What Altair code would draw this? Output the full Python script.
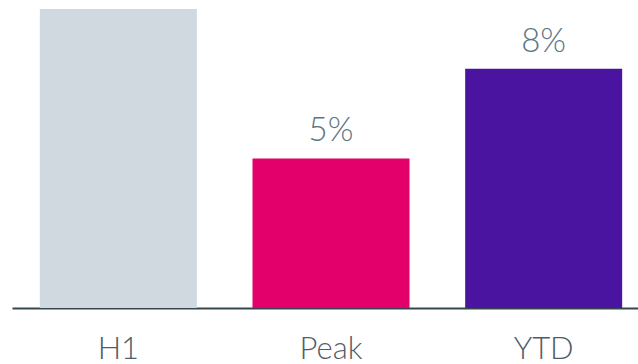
import altair as alt
import pandas as pd

categories = ["H1", "Peak", "YTD"]
values = [10, 5, 8]
show_label = [False, True, True]
colors = ["#cfd9df", "#e4006b", "#4b14a0"]

df = pd.DataFrame({
    "cat": categories,
    "value": values,
    "show": show_label,
    "color": colors,
})
df["label"] = df["value"].astype(int).astype(str) + "%"

FONT = "Lato"

x = alt.X(
    "cat:N",
    sort=categories,
    title=None,
    scale=alt.Scale(range=[12, 650], paddingInner=0.263, paddingOuter=0.1315),
    axis=alt.Axis(
        labelAngle=0,
        ticks=False,
        domainColor="#37474f",
        domainWidth=2,
        labelFont=FONT,
        labelFontWeight=300,
        labelFontSize=31,
        labelColor="#4f5d66",
        labelPadding=50,
        labelBaseline="alphabetic",
        grid=False,
    ),
)
y = alt.Y("value:Q", scale=alt.Scale(domain=[0, 10.3], nice=False), axis=None)

base = alt.Chart(df)

bars = base.mark_bar(size=157).encode(
    x=x,
    y=y,
    color=alt.Color("color:N", scale=None),
)

labels = base.transform_filter("datum.show").mark_text(
    font=FONT,
    fontWeight=300,
    fontSize=33,
    color="#5b7483",
    baseline="alphabetic",
    dy=-17,
).encode(
    x=alt.X("cat:N", sort=categories),
    y=y,
    text="label:N",
)

chart = (
    alt.layer(bars, labels)
    .properties(
        width=638,
        height=308,
        padding={"left": 0, "top": 0, "right": 0, "bottom": 56},
        autosize=alt.AutoSizeParams(type="none"),
        view=alt.ViewBackground(strokeWidth=0, stroke="transparent"),
    )
    .configure_view(strokeWidth=0, stroke="transparent")
    .configure(background="white")
)

chart.save("out.html", embed_options={"renderer": "svg", "actions": False})
